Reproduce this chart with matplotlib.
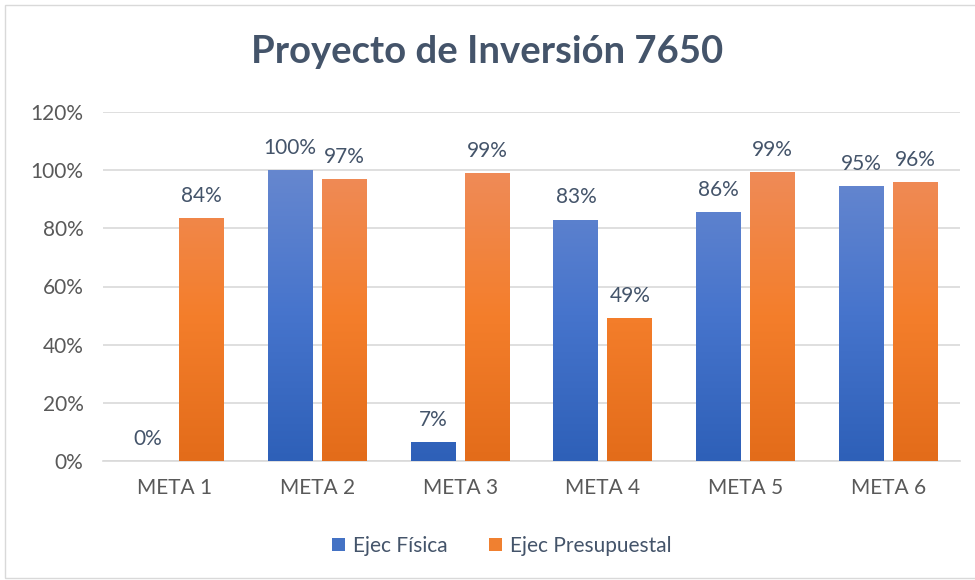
import numpy as np
import matplotlib
matplotlib.use("Agg")
import matplotlib.pyplot as plt
from matplotlib.colors import LinearSegmentedColormap
from matplotlib.patches import Rectangle, Patch

categories = ["META 1", "META 2", "META 3", "META 4", "META 5", "META 6"]
fisica = [0.0, 1.00, 0.065, 0.83, 0.856, 0.946]
presupuestal = [0.836, 0.97, 0.99, 0.492, 0.994, 0.959]
labels_fisica = ["0%", "100%", "7%", "83%", "86%", "95%"]
labels_pres = ["84%", "97%", "99%", "49%", "99%", "96%"]
series_names = ["Ejec Física", "Ejec Presupuestal"]
yticks = [0, 0.2, 0.4, 0.6, 0.8, 1.0, 1.2]
ytick_labels = ["0%", "20%", "40%", "60%", "80%", "100%", "120%"]
title = "Proyecto de Inversión 7650"

plt.rcParams['font.family'] = ['Lato', 'DejaVu Sans']

fig = plt.figure(figsize=(9.75, 5.8), dpi=100)
fig.patch.set_facecolor("white")
# outer chart border
fig.add_artist(Rectangle((5/975, 0.003), 1.2, 1 - 5/580 - 0.003, transform=fig.transFigure,
                         fill=False, edgecolor="#D9D9D9", linewidth=1))

ax = fig.add_axes([103/975, 1 - 461/580, 857/975, (461 - 112)/580])
ax.set_xlim(-0.5, len(categories) - 0.5)
ax.set_ylim(0, 1.2)

blue_cmap = LinearSegmentedColormap.from_list("b", ["#2E60B8", "#4674CC", "#6687CF"])
orange_cmap = LinearSegmentedColormap.from_list("o", ["#E36C1A", "#F47E2B", "#EF8B58"])

width = 0.315
off = 0.189
x = np.arange(len(categories))
grad = np.linspace(0, 1, 256).reshape(-1, 1)

for vals, sign, cmap in [(fisica, -1, blue_cmap), (presupuestal, 1, orange_cmap)]:
    bars = ax.bar(x + sign * off, vals, width, color="none", edgecolor="none", zorder=3)
    for b in bars:
        h = b.get_height()
        if h <= 0:
            continue
        im = ax.imshow(grad, cmap=cmap, origin="lower", aspect="auto",
                       extent=(b.get_x(), b.get_x() + b.get_width(), 0, 1.0),
                       zorder=3, interpolation="bilinear")
        im.set_clip_path(b)

fs = 15
for i in range(len(categories)):
    ax.text(x[i] - off, fisica[i] + 0.042, labels_fisica[i], ha="center", va="bottom",
            fontsize=fs, color="#44546A", zorder=4)
    ax.text(x[i] + off, presupuestal[i] + 0.042, labels_pres[i], ha="center", va="bottom",
            fontsize=fs, color="#44546A", zorder=4)

ax.set_xlim(-0.5, len(categories) - 0.5)
ax.set_ylim(0, 1.2)
ax.set_yticks(yticks)
ax.set_yticklabels(ytick_labels)
ax.set_xticks(x)
ax.set_xticklabels(categories)
ax.tick_params(axis="both", length=0, labelsize=fs, labelcolor="#595959")
ax.tick_params(axis="y", pad=14)
ax.tick_params(axis="x", pad=12)
ax.grid(axis="y", color="#D9D9D9", linewidth=1.2, zorder=0)
ax.set_axisbelow(True)
for s in ["top", "right", "left"]:
    ax.spines[s].set_visible(False)
ax.spines["bottom"].set_color("#D9D9D9")
ax.spines["bottom"].set_linewidth(1.2)

fig.text(0.5, 1 - 52/580, title, ha="center", va="center", fontsize=27.5,
         fontweight="bold", color="#44546A")

handles = [Patch(facecolor="#4472C4", edgecolor="none"), Patch(facecolor="#F08030", edgecolor="none")]
fig.legend(handles, series_names, loc="center", bbox_to_anchor=(0.515, 1 - 546/580), ncol=2,
           frameon=False, fontsize=fs, labelcolor="#44546A", handlelength=0.6,
           handleheight=0.6, handletextpad=0.4, columnspacing=2.0)

fig.savefig("out.png", dpi=100, facecolor="white")
